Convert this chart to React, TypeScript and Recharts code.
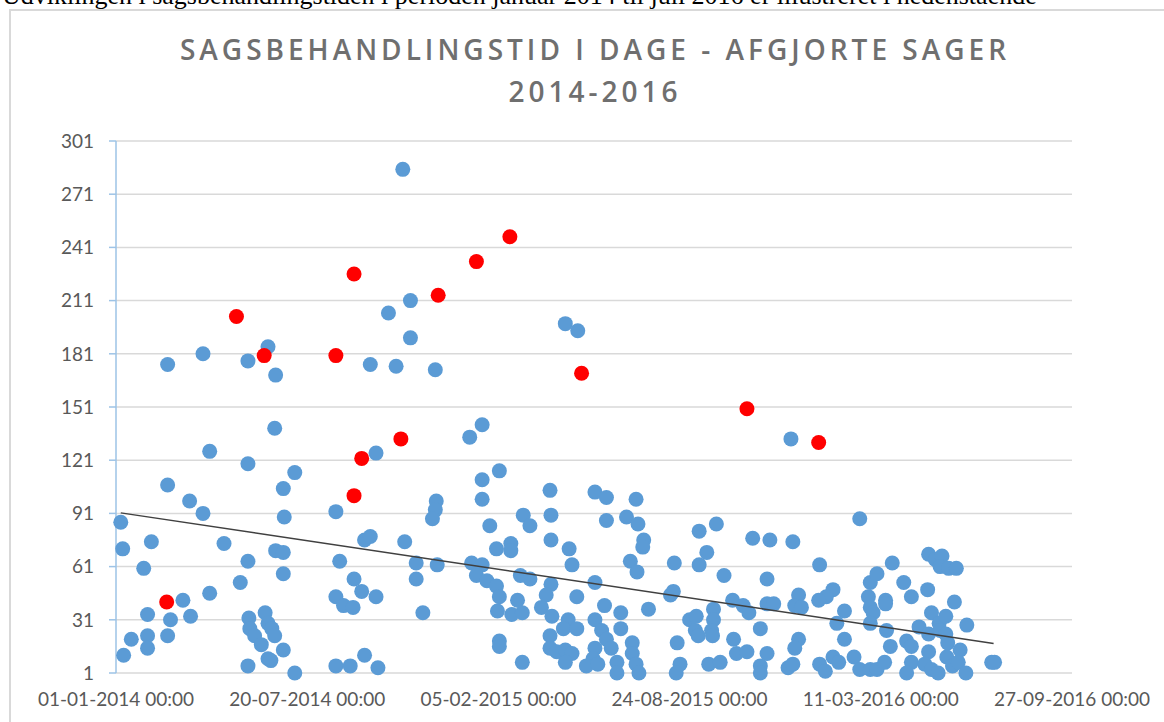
import React from "react";
import {
  CartesianGrid,
  Scatter,
  ScatterChart,
  XAxis,
  YAxis,
} from "recharts";

// [days since 01-01-2014, processing time in days]
const bluePoints: [number, number][] = [
  [54, 175], [91, 181], [138, 177], [159, 185], [167, 169],
  [5, 86], [7, 71], [8, 11], [16, 20], [29, 60], [37, 75], [33, 34], [33, 22], [33, 15],
  [54, 107], [57, 31], [54, 22], [70, 42], [77, 98], [78, 33], [91, 91], [98, 126], [98, 46],
  [113, 74], [130, 52], [138, 119], [138, 64], [138, 5],
  [139, 32], [140, 26], [145, 22], [152, 17], [156, 35], [159, 29], [163, 26], [166, 22],
  [159, 9], [162, 8], [175, 14],
  [166, 139], [175, 105], [176, 89], [167, 70], [175, 69], [175, 57], [187, 114], [187, 1],
  [300, 285], [285, 204], [308, 211], [308, 190], [266, 175], [293, 174], [334, 172],
  [470, 198], [483, 194],
  [383, 141], [370, 134], [272, 125], [230, 92], [401, 115], [383, 110], [383, 99], [454, 104],
  [501, 103], [335, 98], [334, 93], [331, 88], [426, 90], [433, 84], [455, 90], [391, 84],
  [260, 76], [266, 78], [302, 75], [455, 76], [398, 71], [413, 74], [413, 70], [474, 71],
  [477, 62], [234, 64], [314, 63], [314, 54], [336, 62], [372, 63], [383, 62], [377, 56],
  [388, 53], [398, 50], [401, 44], [423, 56], [433, 54], [455, 51], [450, 45], [501, 52],
  [249, 54], [257, 47], [272, 44], [230, 44], [238, 39], [248, 38], [321, 35], [482, 44],
  [420, 42], [414, 34], [425, 35], [399, 36], [445, 38], [456, 33], [473, 31], [468, 26],
  [482, 26], [501, 31], [401, 19], [401, 16], [454, 22], [454, 15], [461, 13], [470, 14],
  [477, 12], [470, 7], [501, 15], [499, 9], [492, 5], [425, 7], [260, 11], [230, 5],
  [245, 5], [274, 4],
  [706, 133], [513, 100], [544, 99], [778, 88], [513, 87], [534, 89], [546, 85], [610, 81],
  [628, 85], [666, 77], [684, 76], [708, 75], [552, 76], [551, 72], [618, 69], [610, 62],
  [584, 63], [538, 64], [545, 58], [636, 56], [736, 62], [681, 54], [580, 45], [583, 47],
  [714, 45], [710, 39], [717, 38], [750, 48], [743, 44], [735, 42], [645, 42], [656, 39],
  [662, 35], [681, 40], [688, 40], [789, 52], [796, 57], [787, 44], [789, 38], [792, 35],
  [789, 29], [762, 36], [511, 39], [508, 25], [513, 20], [518, 15], [504, 6], [528, 35],
  [528, 26], [557, 37], [540, 18], [540, 12], [524, 7], [524, 1], [544, 6], [547, 1],
  [587, 18], [590, 6], [586, 1], [600, 31], [607, 33], [606, 25], [609, 22], [625, 37],
  [625, 31], [623, 25], [624, 22], [620, 6], [632, 7], [646, 20], [649, 12], [660, 13],
  [674, 26], [681, 12], [674, 5], [674, 1], [714, 20], [710, 15], [703, 4], [708, 6],
  [736, 6], [742, 2], [750, 10], [756, 7], [754, 29], [762, 20], [772, 10], [778, 3],
  [789, 3], [796, 3],
  [850, 68], [857, 65], [864, 67], [862, 61], [871, 60], [879, 60], [812, 63], [824, 52],
  [832, 44], [849, 48], [805, 42], [805, 40], [877, 41], [853, 35], [861, 29], [868, 33],
  [840, 27], [850, 23], [862, 25], [868, 23], [890, 28], [806, 25], [870, 18], [883, 14],
  [810, 16], [827, 19], [832, 16], [850, 13], [832, 7], [827, 1], [804, 7], [846, 6],
  [853, 3], [860, 1], [869, 10], [875, 5], [881, 7], [889, 1], [916, 7], [919, 7],
];

const redPoints: [number, number][] = [
  [53, 41], [126, 202], [155, 180], [230, 180], [249, 226], [257, 122], [249, 101],
  [298, 133], [337, 214], [377, 233], [412, 247], [487, 170], [660, 150], [735, 131],
];

const trendPoints: [number, number][] = [
  [5, 91.3],
  [918, 17.7],
];

const xTicks = [0, 200, 400, 600, 800, 1000];
const yTicks = [1, 31, 61, 91, 121, 151, 181, 211, 241, 271, 301];

const START = Date.UTC(2014, 0, 1);
const pad = (n: number) => String(n).padStart(2, "0");
const formatDay = (d: number) => {
  const dt = new Date(START + d * 86400000);
  return `${pad(dt.getUTCDate())}-${pad(dt.getUTCMonth() + 1)}-${dt.getUTCFullYear()} 00:00`;
};

const toRows = (pts: [number, number][]) => pts.map(([day, value]) => ({ day, value }));

const dot = (color: string) => (props: any) =>
  <circle cx={props.cx} cy={props.cy} r={7.5} fill={color} />;

const tickFont = { fontFamily: "Lato, 'Open Sans', sans-serif", fontSize: 19, fill: "#595959" };

export default function App() {
  return (
    <div style={{ position: "absolute", left: 0, top: 0, width: 1164, height: 722, overflow: "hidden", background: "#fff" }}>
      <div
        style={{
          position: "absolute",
          left: 2,
          top: -17,
          fontFamily: "'Liberation Serif', 'Times New Roman', serif",
          fontSize: 26,
          lineHeight: "26px",
          whiteSpace: "nowrap",
          color: "#000",
        }}
      >
        Udviklingen i sagsbehandlingstiden i perioden januar 2014 til juli 2016 er illustreret i nedenstående
      </div>
      <div
        style={{
          position: "absolute",
          left: 9,
          top: 9,
          width: 1170,
          height: 730,
          border: "2px solid #d9d9d9",
          boxSizing: "border-box",
        }}
      />
      <div
        style={{
          position: "absolute",
          left: 0,
          top: 28,
          width: 1190,
          textAlign: "center",
          fontFamily: "'Open Sans', sans-serif",
          fontWeight: 600,
          fontSize: 28,
          lineHeight: "42px",
          letterSpacing: 4,
          color: "#6f6f6f",
        }}
      >
        <div>SAGSBEHANDLINGSTID I DAGE - AFGJORTE SAGER</div>
        <div>2014-2016</div>
      </div>
      <div style={{ position: "absolute", left: 0, top: 0 }}>
        <ScatterChart width={1164} height={722} margin={{ top: 141, right: 92, bottom: 0, left: 0 }}>
          <CartesianGrid horizontal vertical={false} stroke="#d9d9d9" strokeWidth={1.5} />
          <XAxis
            type="number"
            dataKey="day"
            domain={[0, 1000]}
            ticks={xTicks}
            tickFormatter={formatDay}
            axisLine={false}
            tickLine={false}
            tickMargin={14}
            height={49}
            tick={tickFont}
            interval={0}
          />
          <YAxis
            type="number"
            dataKey="value"
            domain={[1, 301]}
            ticks={yTicks}
            width={116}
            axisLine={{ stroke: "#9dc3e6", strokeWidth: 1.5 }}
            tickLine={{ stroke: "#9dc3e6", strokeWidth: 1.5 }}
            tickSize={7}
            tickMargin={15}
            tick={tickFont}
            interval={0}
          />
          <Scatter data={toRows(bluePoints)} fill="#5b9bd5" shape={dot("#5b9bd5")} isAnimationActive={false} />
          <Scatter data={toRows(redPoints)} fill="#ff0000" shape={dot("#ff0000")} isAnimationActive={false} />
          <Scatter
            data={toRows(trendPoints)}
            line={{ stroke: "#404040", strokeWidth: 1.5 }}
            shape={() => <g />}
            isAnimationActive={false}
          />
        </ScatterChart>
      </div>
    </div>
  );
}
